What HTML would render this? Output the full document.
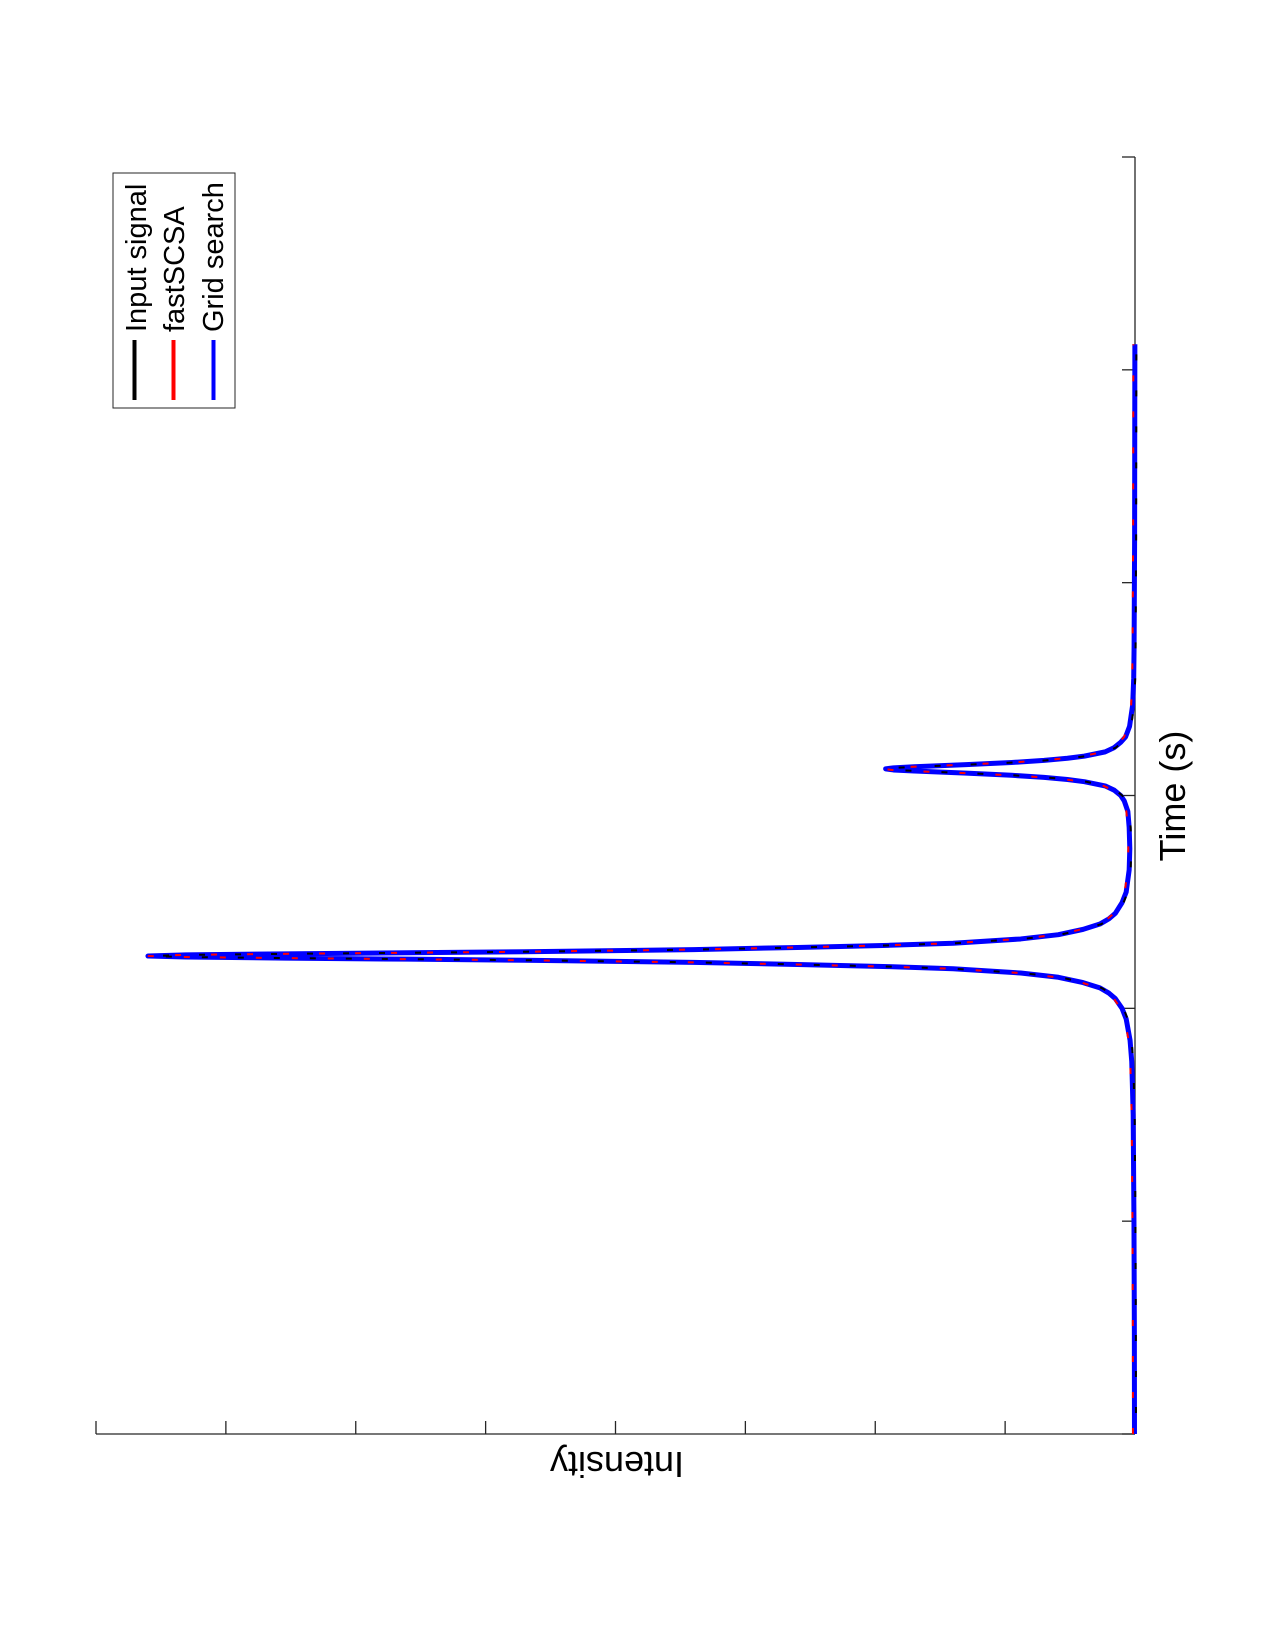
<!DOCTYPE html>
<html><head><meta charset="utf-8">
<style>
html,body{margin:0;padding:0;background:#fff;}
svg{display:block;font-family:"Liberation Sans",Arial,sans-serif;}
</style></head>
<body>
<svg id="chart" width="1275" height="1650" viewBox="0 0 1275 1650">
  <g id="axes"></g>
  <g id="series"></g>
  <text x="0" y="0" font-size="36" text-anchor="middle" transform="translate(1185,796) rotate(-90)">Time (s)</text>
  <text x="0" y="0" font-size="36" text-anchor="middle" transform="translate(617,1452) rotate(180)">Intensity</text>
  <g>
    <rect x="113" y="173" width="122" height="235" fill="#fff" stroke="#262626" stroke-width="1"/>
    <line x1="134.5" y1="340" x2="134.5" y2="400" stroke="#000" stroke-width="4"/>
    <text font-size="29" transform="translate(146,332) rotate(-90)">Input signal</text>
    <line x1="173.5" y1="340" x2="173.5" y2="400" stroke="#f00" stroke-width="4"/>
    <text font-size="29" transform="translate(184,332) rotate(-90)">fastSCSA</text>
    <line x1="213.5" y1="340" x2="213.5" y2="400" stroke="#00f" stroke-width="4"/>
    <text font-size="29" transform="translate(223,332) rotate(-90)">Grid search</text>
  </g>
</svg>
<script>
const timeValues = [0,0.5,1.0,1.5,1.75,1.85,1.95,2.0,2.046,2.071,2.096,2.121,2.146,2.166,2.186,2.196,2.206,2.216,2.226,2.231,2.236,2.241,2.246,2.251,2.256,2.261,2.266,2.276,2.286,2.296,2.306,2.326,2.346,2.371,2.396,2.421,2.446,2.496,2.546,2.65,2.75,2.85,2.925,2.975,3.0,3.025,3.045,3.065,3.075,3.085,3.095,3.105,3.115,3.12,3.125,3.13,3.135,3.145,3.155,3.165,3.175,3.185,3.205,3.225,3.25,3.275,3.325,3.425,3.55,3.7,4.2,4.7,5.12];
const inputSignal = [0.004,0.005,0.008,0.014,0.025,0.038,0.068,0.1,0.152,0.2,0.27,0.4,0.59,0.88,1.4,1.9,2.6,3.4,4.7,5.6,6.55,7.31,7.6,7.31,6.55,5.6,4.7,3.4,2.6,1.9,1.4,0.88,0.59,0.4,0.27,0.2,0.152,0.1,0.068,0.045,0.04,0.045,0.055,0.083,0.11,0.16,0.23,0.39,0.52,0.7,0.95,1.3,1.7,1.86,1.92,1.86,1.7,1.3,0.95,0.7,0.52,0.39,0.23,0.16,0.11,0.073,0.042,0.018,0.01,0.007,0.003,0.002,0.001];
const fastSCSA = [0.004,0.005,0.008,0.014,0.025,0.038,0.068,0.1,0.152,0.2,0.27,0.4,0.59,0.88,1.4,1.9,2.6,3.4,4.7,5.6,6.55,7.31,7.6,7.31,6.55,5.6,4.7,3.4,2.6,1.9,1.4,0.88,0.59,0.4,0.27,0.2,0.152,0.1,0.068,0.045,0.04,0.045,0.055,0.083,0.11,0.16,0.23,0.39,0.52,0.7,0.95,1.3,1.7,1.86,1.92,1.86,1.7,1.3,0.95,0.7,0.52,0.39,0.23,0.16,0.11,0.073,0.042,0.018,0.01,0.007,0.003,0.002,0.001];
const gridSearch = [0.004,0.005,0.008,0.014,0.025,0.038,0.068,0.1,0.152,0.2,0.27,0.4,0.59,0.88,1.4,1.9,2.6,3.4,4.7,5.6,6.55,7.31,7.6,7.31,6.55,5.6,4.7,3.4,2.6,1.9,1.4,0.88,0.59,0.4,0.27,0.2,0.152,0.1,0.068,0.045,0.04,0.045,0.055,0.083,0.11,0.16,0.23,0.39,0.52,0.7,0.95,1.3,1.7,1.86,1.92,1.86,1.7,1.3,0.95,0.7,0.52,0.39,0.23,0.16,0.11,0.073,0.042,0.018,0.01,0.007,0.003,0.002,0.001];
const timeTicks = [0,1,2,3,4,5,6];
const intensityTicks = [0,1,2,3,4,5,6,7,8];

const NS = 'http://www.w3.org/2000/svg';
const baseX = 1135, leftX = 96, bottomY = 1434, topY = 157;
function yOfTime(t){ return bottomY - (t - 0) / 6 * (bottomY - topY); }
function xOfIntensity(v){ return baseX - (v - 0) / 8 * (baseX - leftX); }

const axes = document.getElementById('axes');
function mk(tag, attrs){ const e = document.createElementNS(NS, tag); for (const k in attrs) e.setAttribute(k, attrs[k]); return e; }

const tAxis = mk('line', {x1: baseX, y1: yOfTime(0), x2: baseX, y2: yOfTime(6), stroke: '#262626', 'stroke-width': 1.3});


axes.appendChild(tAxis);
const iAxis = mk('line', {x1: xOfIntensity(0), y1: bottomY, x2: xOfIntensity(8), y2: bottomY, stroke: '#262626', 'stroke-width': 1.3});


axes.appendChild(iAxis);

timeTicks.forEach(t => {
  const y = yOfTime(t);
  const tk = mk('line', {x1: baseX, y1: y, x2: baseX - 13, y2: y, stroke: '#262626', 'stroke-width': 1.3});
  
  
  axes.appendChild(tk);
});
intensityTicks.forEach(v => {
  const x = xOfIntensity(v);
  const tk = mk('line', {x1: x, y1: bottomY, x2: x, y2: bottomY - 13, stroke: '#262626', 'stroke-width': 1.3});
  
  
  axes.appendChild(tk);
});

const series = document.getElementById('series');
function pathFor(vals){
  return vals.map((v, i) => (i ? 'L' : 'M') + xOfIntensity(v).toFixed(2) + ',' + yOfTime(timeValues[i]).toFixed(2)).join(' ');
}
const p3 = mk('path', {d: pathFor(gridSearch), fill: 'none', stroke: '#00f', 'stroke-width': 5, 'stroke-linejoin': 'round'});


series.appendChild(p3);
const p2 = mk('path', {d: pathFor(fastSCSA), fill: 'none', stroke: '#f00', 'stroke-width': 2, 'stroke-dasharray': '6 30', 'stroke-linejoin': 'round', transform: 'translate(-1.5,0)'});


series.appendChild(p2);
const p1 = mk('path', {d: pathFor(inputSignal), fill: 'none', stroke: '#000', 'stroke-width': 2, 'stroke-dasharray': '6 30', 'stroke-dashoffset': '15', 'stroke-linejoin': 'round', transform: 'translate(1.5,0)'});


series.appendChild(p1);
</script>
</body></html>
